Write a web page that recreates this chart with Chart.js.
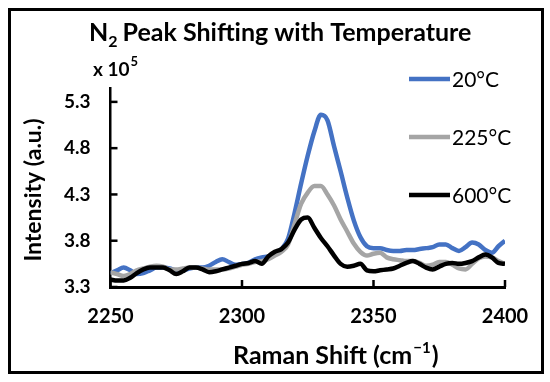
<!DOCTYPE html>
<html>
<head>
<meta charset="utf-8">
<script src="https://cdn.jsdelivr.net/npm/chart.js@4.4.0/dist/chart.umd.min.js"></script>
<style>
  body { margin: 0; background: #fff; }
  #wrap { width: 550px; height: 382px; position: relative; }
</style>
</head>
<body>
<div id="wrap"><canvas id="myChart"></canvas></div>
<script>
// Raman shift (cm-1), shared by all three spectra
const shifts = [2250, 2252.5, 2255, 2257.5, 2260, 2262.5, 2265, 2267.5, 2270, 2272.5,
    2275, 2277.5, 2280, 2282.5, 2285, 2287.5, 2290, 2292.5, 2295, 2297.5,
    2300, 2302.5, 2305, 2307.5, 2310, 2312.5, 2315, 2317.5, 2320, 2322.5,
    2325, 2327.5, 2330, 2332.5, 2335, 2337.5, 2340, 2342.5, 2345, 2347.5,
    2350, 2352.5, 2355, 2357.5, 2360, 2362.5, 2365, 2367.5, 2370, 2372.5,
    2375, 2377.5, 2380, 2382.5, 2385, 2387.5, 2390, 2392.5, 2395, 2397.5, 2400];

const temps = ['20°C', '225°C', '600°C'];

// intensity x 10^5
const int20 = [3.45, 3.48, 3.51, 3.48, 3.44, 3.45, 3.48, 3.51, 3.51, 3.50,
    3.48, 3.48, 3.50, 3.51, 3.51, 3.53, 3.57, 3.60, 3.57, 3.54,
    3.55, 3.56, 3.60, 3.62, 3.63, 3.66, 3.71, 3.82, 4.10, 4.42,
    4.72, 4.98, 5.16, 5.10, 4.82, 4.55, 4.27, 4.02, 3.84, 3.74,
    3.72, 3.72, 3.70, 3.69, 3.69, 3.70, 3.70, 3.71, 3.72, 3.73,
    3.76, 3.76, 3.72, 3.69, 3.73, 3.78, 3.76, 3.70, 3.67, 3.74, 3.80];

const int225 = [3.46, 3.44, 3.42, 3.44, 3.48, 3.50, 3.52, 3.53, 3.52, 3.49,
    3.49, 3.50, 3.51, 3.51, 3.50, 3.49, 3.49, 3.49, 3.50, 3.52,
    3.54, 3.55, 3.57, 3.58, 3.60, 3.64, 3.68, 3.76, 3.98, 4.20,
    4.32, 4.39, 4.39, 4.30, 4.18, 4.03, 3.90, 3.77, 3.68, 3.64,
    3.66, 3.67, 3.62, 3.60, 3.59, 3.58, 3.58, 3.56, 3.53, 3.54,
    3.57, 3.57, 3.54, 3.50, 3.49, 3.55, 3.61, 3.63, 3.62, 3.58, 3.55];

const int600 = [3.38, 3.37, 3.37, 3.40, 3.45, 3.49, 3.51, 3.51, 3.51, 3.48,
    3.44, 3.47, 3.51, 3.51, 3.49, 3.46, 3.47, 3.49, 3.51, 3.53,
    3.55, 3.56, 3.58, 3.55, 3.63, 3.68, 3.71, 3.78, 3.92, 4.03,
    4.05, 3.94, 3.83, 3.74, 3.64, 3.55, 3.52, 3.53, 3.55, 3.48,
    3.47, 3.48, 3.49, 3.50, 3.53, 3.56, 3.58, 3.55, 3.51, 3.49,
    3.52, 3.55, 3.56, 3.55, 3.56, 3.58, 3.62, 3.65, 3.62, 3.56, 3.55];

const yTicks = [3.3, 3.8, 4.3, 4.8, 5.3];
const xTicks = [2250, 2300, 2350, 2400];

const colors = ['#4472C4', '#A5A5A5', '#000000'];
const FONT = 'Lato, "Open Sans", sans-serif';

function pts(vals) {
    return vals.map((v, i) => ({ x: shifts[i], y: v }));
}

// extra bits the chart needs: border, title, x10^5, legend, axis titles, inside ticks
const extras = {
    id: 'extras',
    afterDraw(chart) {
        const ctx = chart.ctx;
        const xs = chart.scales.x;
        const ys = chart.scales.y;
        const area = chart.chartArea;
        ctx.save();

        // inside tick marks
        ctx.strokeStyle = '#000';
        ctx.lineWidth = 2.5;
        yTicks.forEach(v => {
            const y = ys.getPixelForValue(v);
            ctx.beginPath();
            ctx.moveTo(area.left, y);
            ctx.lineTo(area.left + 7, y);
            ctx.stroke();
        });
        xTicks.forEach(v => {
            const x = xs.getPixelForValue(v);
            ctx.beginPath();
            ctx.moveTo(x, area.bottom);
            ctx.lineTo(x, area.bottom - 7);
            ctx.stroke();
        });

        // outer frame
        ctx.lineWidth = 3;
        ctx.strokeRect(9.5, 9.5, 533, 363);

        ctx.fillStyle = '#000';
        ctx.textBaseline = 'alphabetic';
        ctx.textAlign = 'left';

        // title with subscript
        let x = 89;
        ctx.font = 'bold 25px ' + FONT;
        ctx.fillText('N', x, 41);
        x += ctx.measureText('N').width;
        ctx.font = 'bold 16px ' + FONT;
        ctx.fillText('2', x, 47);
        x += ctx.measureText('2').width + 5;
        ctx.font = 'bold 25px ' + FONT;
        ctx.fillText('Peak Shifting with Temperature', x, 41);

        // x 10^5
        ctx.font = 'bold 19px ' + FONT;
        ctx.fillText('x 10', 93, 76);
        let w = ctx.measureText('x 10').width;
        ctx.font = 'bold 13px ' + FONT;
        ctx.fillText('5', 93 + w + 1, 66);

        // legend
        ctx.textBaseline = 'middle';
        chart.data.datasets.forEach((ds, i) => {
            const ly = [79, 137, 195][i];
            ctx.strokeStyle = ds.borderColor;
            ctx.lineWidth = 4.5;
            ctx.beginPath();
            ctx.moveTo(409, ly);
            ctx.lineTo(450, ly);
            ctx.stroke();
            ctx.font = '21px ' + FONT;
            ctx.fillText(ds.label, 452, ly + 1);
        });

        // x axis title
        ctx.textBaseline = 'alphabetic';
        ctx.font = 'bold 25px ' + FONT;
        x = 233;
        ctx.fillText('Raman Shift (cm', x, 364);
        x += ctx.measureText('Raman Shift (cm').width + 1;
        ctx.font = 'bold 15px ' + FONT;
        ctx.fillText('\u22121', x, 353);
        x += ctx.measureText('\u22121').width + 1;
        ctx.font = 'bold 25px ' + FONT;
        ctx.fillText(')', x, 364);

        // y axis title
        ctx.translate(41, 190);
        ctx.rotate(-Math.PI / 2);
        ctx.textAlign = 'center';
        ctx.font = 'bold 23px ' + FONT;
        ctx.fillText('Intensity (a.u.)', 0, 0);

        ctx.restore();
    }
};

new Chart(document.getElementById('myChart'), {
    type: 'line',
    data: {
        datasets: [
            { label: temps[0], data: pts(int20), borderColor: colors[0], order: 2 },
            { label: temps[1], data: pts(int225), borderColor: colors[1], order: 1 },
            { label: temps[2], data: pts(int600), borderColor: colors[2], order: 0 }
        ]
    },
    options: {
        responsive: true,
        maintainAspectRatio: false,
        animation: false,
        elements: {
            point: { radius: 0 },
            line: { borderWidth: 4.5, tension: 0.4, cubicInterpolationMode: 'monotone' }
        },
        layout: { padding: { left: 0, right: 45, top: 88, bottom: 0 } },
        plugins: {
            legend: { display: false },
            tooltip: { enabled: false }
        },
        scales: {
            x: {
                type: 'linear',
                min: 2250,
                max: 2400,
                afterBuildTicks: s => { s.ticks = xTicks.map(v => ({ value: v })); },
                afterFit: s => { s.height = 95; },
                grid: { display: true, drawOnChartArea: false, drawTicks: false },
                border: { display: true, color: '#000', width: 3 },
                ticks: {
                    padding: 18,
                    color: '#000',
                    maxRotation: 0,
                    font: { family: FONT, size: 20, weight: 'bold' },
                    callback: v => String(v)
                }
            },
            y: {
                min: 3.3,
                max: 5.45,
                afterBuildTicks: s => { s.ticks = yTicks.map(v => ({ value: v })); },
                afterFit: s => { s.width = 110.5; },
                grid: { display: true, drawOnChartArea: false, drawTicks: false },
                border: { display: true, color: '#000', width: 2.5 },
                ticks: {
                    padding: 20,
                    color: '#000',
                    font: { family: FONT, size: 19, weight: 'bold' },
                    callback: v => v.toFixed(1)
                }
            }
        }
    },
    plugins: [extras]
});
</script>
</body>
</html>
